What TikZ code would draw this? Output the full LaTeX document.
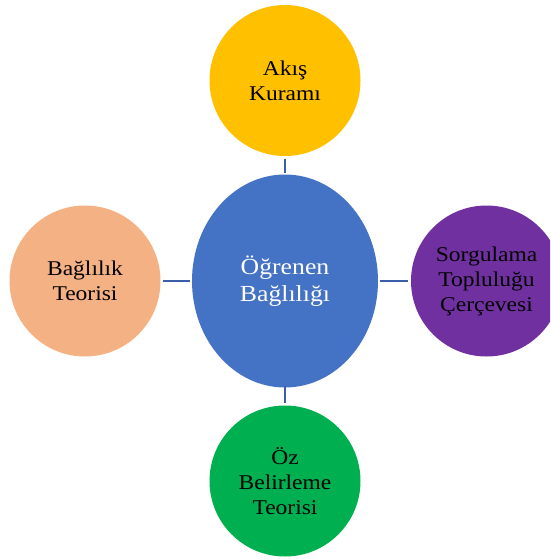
\documentclass[tikz,border=0pt]{standalone}
\usepackage{fontspec}
\setmainfont{Liberation Serif}[FakeStretch=1.12]
\usetikzlibrary{shapes.geometric}
\definecolor{hubblue}{HTML}{4472C4}
\definecolor{linkblue}{HTML}{3A5FA8}
\definecolor{flowyellow}{HTML}{FFC000}
\definecolor{bondpeach}{HTML}{F4B183}
\definecolor{inqpurple}{HTML}{7030A0}
\definecolor{selfgreen}{HTML}{00B050}
\begin{document}
\begin{tikzpicture}[x=1pt,y=-1pt,
  theory/.style={circle,minimum size=151pt,inner sep=0pt,align=center,
    font=\fontsize{21}{25}\selectfont,text=black},
  hub/.style={ellipse,minimum width=186pt,minimum height=213pt,inner sep=0pt,
    align=center,fill=hubblue,text=white,font=\fontsize{23}{27}\selectfont},
  link/.style={draw=linkblue,line width=2.6pt}]
\useasboundingbox (0,0) rectangle (550,560);
\clip (0,0) rectangle (550,560);
\node[hub] (core) at (285,281) {Öğrenen\\Bağlılığı};
\node[theory,fill=flowyellow] (flow) at (285,80.5) {Akış\\Kuramı};
\node[theory,fill=bondpeach] (attach) at (85,281) {Bağlılık\\Teorisi};
\node[theory,fill=inqpurple] (inquiry) at (486.5,281) {Sorgulama\\Topluluğu\\Çerçevesi};
\node[theory,fill=selfgreen] (selfdet) at (285,481) {Öz\\Belirleme\\Teorisi};
\draw[link] ([yshift=-3pt]flow.south) -- ([yshift=1pt]core.north);
\draw[link] ([yshift=2pt]core.south) -- ([yshift=2pt]selfdet.north);
\draw[link] ([xshift=2pt]attach.east) -- ([xshift=-2pt]core.west);
\draw[link] ([xshift=2pt]core.east) -- ([xshift=-3pt]inquiry.west);
\end{tikzpicture}
\end{document}
